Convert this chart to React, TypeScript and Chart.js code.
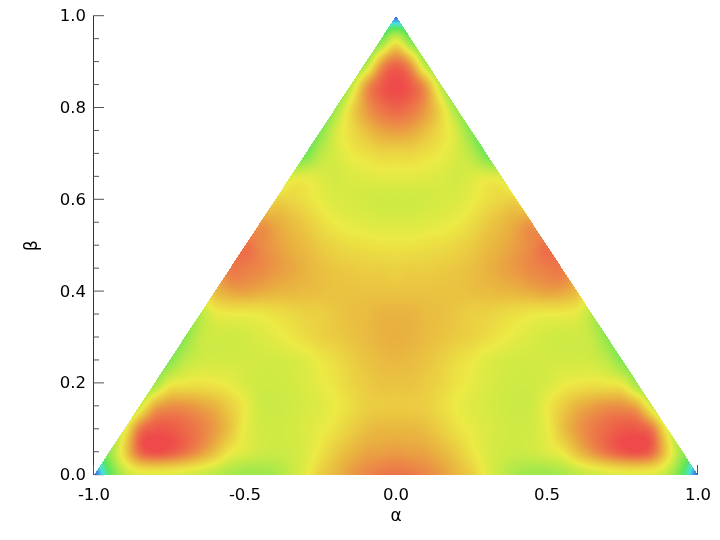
import React, { useEffect, useRef } from "react";
import { Chart, registerables } from "chart.js";

Chart.register(...registerables);

// Node positions of the shaded field. The picture is mirror symmetric about alpha = 0,
// so the rows below are read for alpha = 0, 0.05, ... 1.0 and reflected for alpha < 0.
const alphaRight = [0, 0.05, 0.1, 0.15, 0.2, 0.25, 0.3, 0.35, 0.4, 0.45, 0.5, 0.55, 0.6, 0.65, 0.7, 0.75, 0.8, 0.85, 0.9, 0.95, 1];
const betas = [0, 0.05, 0.1, 0.15, 0.2, 0.25, 0.3, 0.35, 0.4, 0.45, 0.5, 0.55, 0.6, 0.65, 0.7, 0.75, 0.8, 0.85, 0.9, 0.95, 1];

const row00 = [92, 91, 88, 84, 78, 72, 62, 54, 47, 44, 44, 47, 52, 56, 59, 61, 61, 60, 52, 28, 0];
const row05 = [84, 83, 82, 78, 73, 66, 60, 57, 56, 57, 60, 65, 76, 85, 92, 97, 99, 93, 70, 42, 20];
const row10 = [78, 78, 76, 72, 67, 63, 60, 58, 57, 58, 63, 75, 84, 90, 94, 97, 97, 90, 60, 30, 10];
const row15 = [73, 73, 72, 68, 64, 61, 59, 57, 56, 57, 64, 72, 79, 83, 86, 86, 80, 56, 30, 15, 10];
const row20 = [75, 75, 73, 70, 66, 63, 60, 58, 57, 57, 59, 63, 65, 66, 65, 62, 44, 28, 15, 10, 10];
const row25 = [78, 77, 75, 72, 68, 65, 61, 59, 58, 58, 58, 58, 58, 57, 52, 38, 25, 15, 10, 10, 10];
const row30 = [80, 79, 77, 75, 73, 71, 68, 65, 62, 60, 58, 57, 57, 54, 40, 25, 15, 10, 10, 10, 10];
const row35 = [79, 79, 77, 76, 74, 72, 71, 69, 67, 65, 64, 64, 62, 50, 30, 15, 10, 10, 10, 10, 10];
const row40 = [75, 75, 75, 75, 75, 76, 77, 78, 79, 81, 83, 82, 76, 58, 25, 15, 10, 10, 10, 10, 10];
const row45 = [71, 72, 72, 73, 74, 76, 79, 82, 85, 88, 90, 90, 75, 40, 15, 10, 10, 10, 10, 10, 10];
const row50 = [66, 66, 67, 68, 70, 73, 77, 80, 84, 88, 92, 80, 45, 15, 10, 10, 10, 10, 10, 10, 10];
const row55 = [60, 60, 61, 62, 64, 68, 73, 77, 81, 84, 72, 35, 15, 10, 10, 10, 10, 10, 10, 10, 10];
const row60 = [57, 57, 58, 59, 60, 63, 67, 70, 70, 56, 28, 15, 10, 10, 10, 10, 10, 10, 10, 10, 10];
const row65 = [62, 62, 61, 60, 58, 60, 62, 59, 45, 20, 15, 10, 10, 10, 10, 10, 10, 10, 10, 10, 10];
const row70 = [70, 70, 67, 64, 59, 51, 34, 20, 15, 10, 10, 10, 10, 10, 10, 10, 10, 10, 10, 10, 10];
const row75 = [84, 82, 76, 68, 58, 38, 20, 15, 10, 10, 10, 10, 10, 10, 10, 10, 10, 10, 10, 10, 10];
const row80 = [95, 92, 84, 68, 44, 20, 15, 10, 10, 10, 10, 10, 10, 10, 10, 10, 10, 10, 10, 10, 10];
const row85 = [100, 96, 82, 50, 20, 15, 10, 10, 10, 10, 10, 10, 10, 10, 10, 10, 10, 10, 10, 10, 10];
const row90 = [92, 80, 45, 20, 15, 10, 10, 10, 10, 10, 10, 10, 10, 10, 10, 10, 10, 10, 10, 10, 10];
const row95 = [58, 34, 15, 10, 10, 10, 10, 10, 10, 10, 10, 10, 10, 10, 10, 10, 10, 10, 10, 10, 10];
const row100 = [0, 5, 10, 10, 10, 10, 10, 10, 10, 10, 10, 10, 10, 10, 10, 10, 10, 10, 10, 10, 10];

const halfRows = [row00, row05, row10, row15, row20, row25, row30, row35, row40, row45, row50, row55, row60, row65, row70, row75, row80, row85, row90, row95, row100];

const paletteValues = [0, 15, 30, 45, 57, 64, 72, 80, 90, 100];
const paletteColors = [
  [63, 95, 230], [72, 224, 220], [92, 230, 90], [160, 232, 76], [207, 234, 68],
  [236, 234, 68], [235, 207, 66], [233, 176, 64], [236, 126, 72], [238, 74, 74],
];

const xMajor = [-1, -0.5, 0, 0.5, 1];

const alphas = [...alphaRight.slice(1).map((a) => -a).reverse(), ...alphaRight];
const grid = halfRows.map((r) => [...r.slice(1).reverse(), ...r]);
const fieldPoints = betas.flatMap((b, j) => alphas.map((a, i) => ({ x: a, y: b, v: grid[j][i] })));

function colorOf(v: number) {
  const t = Math.max(0, Math.min(100, v));
  let k = 0;
  while (k < paletteValues.length - 2 && t > paletteValues[k + 1]) k++;
  const f = (t - paletteValues[k]) / (paletteValues[k + 1] - paletteValues[k]);
  const a = paletteColors[k], b = paletteColors[k + 1];
  return [a[0] + (b[0] - a[0]) * f, a[1] + (b[1] - a[1]) * f, a[2] + (b[2] - a[2]) * f];
}

function cubic(p0: number, p1: number, p2: number, p3: number, t: number) {
  return p1 + 0.5 * t * (p2 - p0 + t * (2 * p0 - 5 * p1 + 4 * p2 - p3 + t * (3 * (p1 - p2) + p3 - p0)));
}

// Shading of the cell field: values between nodes, like the image renderer of the original.
function shade(a: number, b: number) {
  const nx = alphas.length, ny = betas.length;
  const fx = Math.min(nx - 1.0001, (a - alphas[0]) / (alphas[1] - alphas[0]));
  const fy = Math.min(ny - 1.0001, (b - betas[0]) / (betas[1] - betas[0]));
  const ix = Math.floor(fx), iy = Math.floor(fy);
  const tx = fx - ix, ty = fy - iy;
  const col: number[] = [];
  for (let m = -1; m <= 2; m++) {
    const r = grid[Math.max(0, Math.min(ny - 1, iy + m))];
    col.push(cubic(r[Math.max(0, ix - 1)], r[ix], r[Math.min(nx - 1, ix + 1)], r[Math.min(nx - 1, ix + 2)], tx));
  }
  return cubic(col[0], col[1], col[2], col[3], ty);
}

const insideTicks = {
  id: "insideTicks",
  beforeDatasetsDraw(chart: any) {
    const { ctx, scales } = chart;
    const xs = scales.x, ys = scales.y;
    ctx.save();
    ctx.lineWidth = 1;
    ctx.strokeStyle = "#333333";
    ctx.beginPath();
    ctx.moveTo(xs.left - 0.5, ys.top - 0.5);
    ctx.lineTo(xs.left - 0.5, ys.bottom);
    ctx.stroke();
    ctx.strokeStyle = "#555555";
    for (const t of ys.ticks) {
      const p = ys.getPixelForValue(t.value);
      const major = Math.abs(t.value * 5 - Math.round(t.value * 5)) < 1e-6;
      ctx.beginPath();
      ctx.moveTo(xs.left - 0.5, p - 0.3);
      ctx.lineTo(xs.left + (major ? 10 : 5), p - 0.3);
      ctx.stroke();
    }
    for (const v of xMajor) {
      const p = xs.getPixelForValue(v);
      ctx.beginPath();
      ctx.moveTo(p - 0.5, ys.bottom);
      ctx.lineTo(p - 0.5, ys.bottom - 10);
      ctx.stroke();
    }
    ctx.restore();
  },
};

const fieldImage = {
  id: "fieldImage",
  afterDatasetsDraw(chart: any) {
    const { ctx, scales } = chart;
    const xs = scales.x, ys = scales.y;
    const x0 = Math.floor(xs.left), x1 = Math.ceil(xs.right);
    const y0 = Math.floor(ys.top), y1 = Math.ceil(ys.bottom);
    const img = ctx.createImageData(x1 - x0, y1 - y0);
    for (let py = y0; py < y1; py++) {
      const b = ys.getValueForPixel(py + 0.5);
      for (let px = x0; px < x1; px++) {
        const a = xs.getValueForPixel(px + 0.5);
        if (b < 0 || Math.abs(a) > 1 - b) continue;
        const c = colorOf(shade(a, b));
        const o = ((py - y0) * (x1 - x0) + (px - x0)) * 4;
        img.data[o] = c[0];
        img.data[o + 1] = c[1];
        img.data[o + 2] = c[2];
        img.data[o + 3] = 255;
      }
    }
    const off = document.createElement("canvas");
    off.width = x1 - x0;
    off.height = y1 - y0;
    off.getContext("2d")!.putImageData(img, 0, 0);
    ctx.drawImage(off, x0, y0);
  },
};

export default function App() {
  const ref = useRef<HTMLCanvasElement>(null);
  useEffect(() => {
    document.body.style.margin = "0";
    const chart = new Chart(ref.current!, {
      type: "scatter",
      data: { datasets: [{ label: "field", data: fieldPoints, pointRadius: 0, showLine: false }] },
      options: {
        animation: false,
        responsive: false,
        layout: { padding: { top: 16, right: 22, left: 0, bottom: 0 } },
        plugins: { legend: { display: false }, tooltip: { enabled: false } },
        scales: {
          x: {
            type: "linear",
            min: -1,
            max: 1,
            afterFit: (s: any) => { s.height = 65; },
            border: { display: false },
            grid: { display: false },
            ticks: {
              stepSize: 0.5,
              maxRotation: 0,
              padding: 3,
              color: "#000",
              font: { family: "'DejaVu Sans'", size: 16.5 },
              callback: (v: any) => Number(v).toFixed(1),
            },
            title: { display: true, text: "α", color: "#000", font: { family: "'DejaVu Sans'", size: 17 }, padding: { top: 0, bottom: 13 } },
          },
          y: {
            type: "linear",
            min: 0,
            max: 1,
            afterFit: (s: any) => { s.width = 94; },
            border: { display: false },
            grid: { display: false },
            ticks: {
              stepSize: 0.05,
              autoSkip: false,
              padding: 0,
              labelOffset: 1,
              color: "#000",
              font: { family: "'DejaVu Sans'", size: 16.5 },
              callback: (v: any) => {
                const n = Number(v) * 5;
                return Math.abs(n - Math.round(n)) < 1e-6 ? Number(v).toFixed(1) : "";
              },
            },
            title: { display: true, text: "β", color: "#000", font: { family: "'DejaVu Sans'", size: 17 }, padding: { top: 22, bottom: 0 } },
          },
        },
      },
      plugins: [insideTicks, fieldImage],
    } as any);
    return () => chart.destroy();
  }, []);
  return <canvas ref={ref} width={720} height={540} style={{ display: "block" }} />;
}
